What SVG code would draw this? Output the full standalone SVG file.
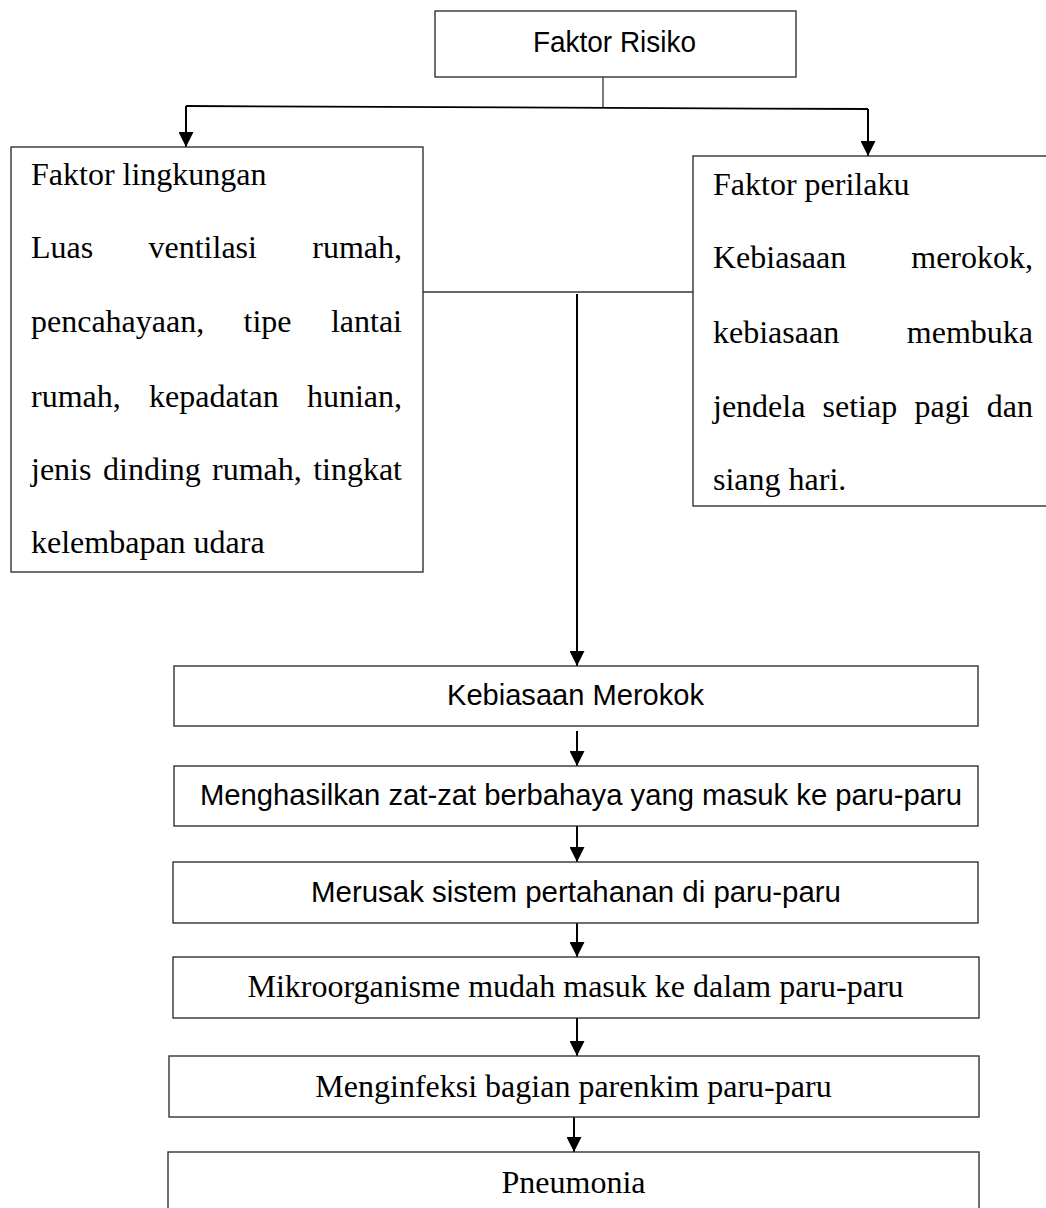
<svg xmlns="http://www.w3.org/2000/svg" width="1046" height="1208" viewBox="0 0 1046 1208">
  <defs>
    <marker id="ah" markerUnits="userSpaceOnUse" markerWidth="15" markerHeight="15" refX="15" refY="7.5" orient="auto">
      <path d="M0,0 L15,7.5 L0,15 z" fill="#000"/>
    </marker>
    <style>
      .box { fill: #fff; stroke: #333; stroke-width: 1.4; }
      .serif { font-family: "Liberation Serif", "Times New Roman", serif; font-size: 32px; fill: #000; }
      .sans { font-family: "Liberation Sans", Arial, sans-serif; font-size: 29px; fill: #000; }
      .mid { text-anchor: middle; }
      .end { text-anchor: end; }
      .thin { fill: none; stroke: #333; stroke-width: 1.3; }
      .arrow { fill: none; stroke: #000; stroke-width: 2; marker-end: url(#ah); }
    </style>
  </defs>
  <rect width="1046" height="1208" fill="#fff"/>

  <g id="connectors">
    <line class="thin" x1="603" y1="77" x2="603" y2="107"/>
    <line x1="186" y1="106" x2="868" y2="109" stroke="#000" stroke-width="1.8"/>
    <line class="arrow" x1="186" y1="106" x2="186" y2="147"/>
    <line class="arrow" x1="868" y1="109" x2="868" y2="156"/>
    <line class="thin" x1="423" y1="292" x2="693" y2="292"/>
    <line class="arrow" x1="577" y1="294" x2="577" y2="666"/>
    <line class="arrow" x1="577" y1="731" x2="577" y2="766"/>
    <line class="arrow" x1="577" y1="826" x2="577" y2="862"/>
    <line class="arrow" x1="577" y1="923" x2="577" y2="957"/>
    <line class="arrow" x1="577" y1="1018" x2="577" y2="1056"/>
    <line class="arrow" x1="574" y1="1117" x2="574" y2="1152"/>
  </g>

  <g id="faktor-risiko">
    <rect class="box" x="435" y="11" width="361" height="66"/>
    <text class="sans mid" x="614.5" y="52" textLength="163" lengthAdjust="spacingAndGlyphs">Faktor Risiko</text>
  </g>

  <g id="faktor-lingkungan">
    <rect class="box" x="11" y="147" width="412" height="425"/>
    <text class="serif" x="31" y="185">Faktor lingkungan</text>
    <text class="serif" y="258"><tspan x="31">Luas</tspan><tspan x="148.5">ventilasi</tspan></text>
    <text class="serif end" x="402" y="258">rumah,</text>
    <text class="serif" y="332"><tspan x="31">pencahayaan,</tspan><tspan x="243.5">tipe</tspan></text>
    <text class="serif end" x="402" y="332">lantai</text>
    <text class="serif" y="407"><tspan x="31">rumah,</tspan><tspan x="149">kepadatan</tspan></text>
    <text class="serif end" x="402" y="407">hunian,</text>
    <text class="serif" y="480"><tspan x="31">jenis</tspan><tspan x="103">dinding</tspan><tspan x="212">rumah,</tspan></text>
    <text class="serif end" x="402" y="480">tingkat</text>
    <text class="serif" x="31" y="553">kelembapan udara</text>
  </g>

  <g id="faktor-perilaku">
    <rect class="box" x="693" y="156" width="370" height="350"/>
    <text class="serif" x="713" y="195">Faktor perilaku</text>
    <text class="serif" x="713" y="268">Kebiasaan</text>
    <text class="serif end" x="1033" y="268">merokok,</text>
    <text class="serif" x="713" y="343">kebiasaan</text>
    <text class="serif end" x="1033" y="343">membuka</text>
    <text class="serif" y="417"><tspan x="713">jendela</tspan><tspan x="822.5">setiap</tspan><tspan x="914.5">pagi</tspan></text>
    <text class="serif end" x="1033" y="417">dan</text>
    <text class="serif" x="713" y="490">siang hari.</text>
  </g>

  <g id="kebiasaan-merokok">
    <rect class="box" x="174" y="666" width="804" height="60"/>
    <text class="sans mid" x="575.5" y="705" textLength="257" lengthAdjust="spacingAndGlyphs">Kebiasaan Merokok</text>
  </g>

  <g id="menghasilkan">
    <rect class="box" x="174" y="766" width="804" height="60"/>
    <text class="sans mid" x="581" y="805" textLength="762" lengthAdjust="spacingAndGlyphs">Menghasilkan zat-zat berbahaya yang masuk ke paru-paru</text>
  </g>

  <g id="merusak">
    <rect class="box" x="173" y="862" width="805" height="61"/>
    <text class="sans mid" x="576" y="902" textLength="530" lengthAdjust="spacingAndGlyphs">Merusak sistem pertahanan di paru-paru</text>
  </g>

  <g id="mikroorganisme">
    <rect class="box" x="173" y="957" width="806" height="61"/>
    <text class="serif mid" x="575.5" y="997">Mikroorganisme mudah masuk ke dalam paru-paru</text>
  </g>

  <g id="menginfeksi">
    <rect class="box" x="169" y="1056" width="810" height="61"/>
    <text class="serif mid" x="573.5" y="1097">Menginfeksi bagian parenkim paru-paru</text>
  </g>

  <g id="pneumonia">
    <rect class="box" x="168" y="1152" width="811" height="70"/>
    <text class="serif mid" x="573.5" y="1193">Pneumonia</text>
  </g>
</svg>
